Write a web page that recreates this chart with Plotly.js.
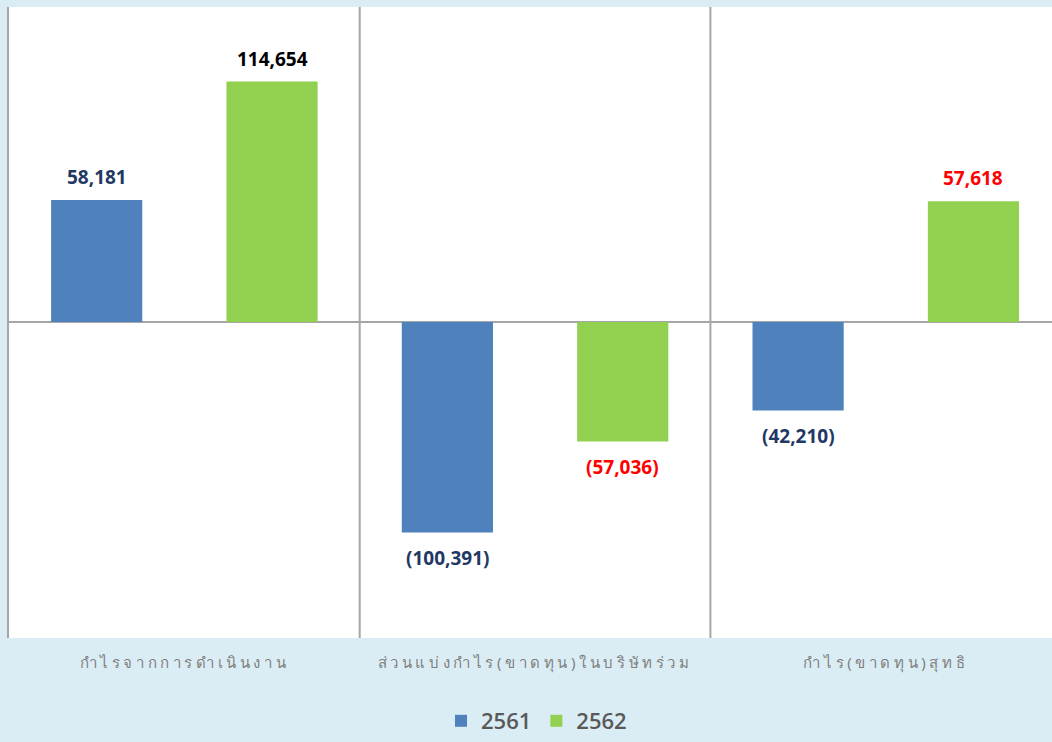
<!DOCTYPE html>
<html>
<head>
<meta charset="utf-8">
<script src="https://cdn.plot.ly/plotly-3.0.1.min.js"></script>
<style>
html,body{margin:0;padding:0;background:#DBEDF4;overflow:hidden;}
#chart{width:1052px;height:742px;}
.xtick text{letter-spacing:3.6px;}
</style>
</head>
<body>
<div id="chart"></div>
<script>
const categories = ["กำไรจากการดำเนินงาน", "ส่วนแบ่งกำไร(ขาดทุน)ในบริษัทร่วม", "กำไร(ขาดทุน)สุทธิ"];
const seriesNames = ["2561", "2562"];
const values2561 = [58181, -100391, -42210];
const values2562 = [114654, -57036, 57618];
const labelColors2561 = ["#1F3864", "#1F3864", "#1F3864"];
const labelColors2562 = ["#000000", "#FF0000", "#FF0000"];

const barColors = ["#4F81BD", "#92D050"];
const idx = categories.map((c, i) => i);

function fmt(v) {
  const s = Math.abs(v).toLocaleString("en-US");
  return v < 0 ? "(" + s + ")" : s;
}

const traces = [values2561, values2562].map((vals, k) => ({
  type: "bar",
  name: seriesNames[k],
  x: idx,
  y: vals,
  marker: {color: barColors[k]},
  hoverinfo: "none"
}));

const annotations = [];
[values2561, values2562].forEach((vals, k) => {
  const cols = k === 0 ? labelColors2561 : labelColors2562;
  vals.forEach((v, i) => {
    annotations.push({
      x: i + (k === 0 ? -0.25 : 0.25),
      y: v,
      xref: "x", yref: "y",
      text: "<b>" + fmt(v) + "</b>",
      showarrow: false,
      yanchor: "middle",
      yshift: v >= 0 ? 23 : -25,
      font: {family: "Open Sans, Liberation Sans, sans-serif", size: 19, color: cols[i]}
    });
  });
});

const shapes = [0.5, 1.5].map(xv => ({
  type: "line", xref: "x", yref: "paper",
  x0: xv, x1: xv, y0: 0, y1: 1,
  line: {color: "#A6A6A6", width: 2}
}));

const layout = {
  width: 1052, height: 742,
  paper_bgcolor: "#DBEDF4",
  plot_bgcolor: "#FFFFFF",
  margin: {l: 9, r: 0, t: 7, b: 104},
  barmode: "group",
  bargap: 0.0,
  bargroupgap: 0.48,
  showlegend: true,
  legend: {
    orientation: "h",
    xref: "container", yref: "container",
    x: 0.51, xanchor: "center", y: 0.0, yanchor: "bottom",
    font: {family: "Open Sans, Liberation Sans, sans-serif", size: 22, color: "#595959", weight: 600},
    itemwidth: 30, traceorder: "normal", bgcolor: "rgba(0,0,0,0)"
  },
  xaxis: {
    range: [-0.5, 2.474],
    tickmode: "array", tickvals: idx, ticktext: categories,
    ticks: "", showgrid: false, zeroline: false, showline: false,
    ticklabelstandoff: 14,
    tickfont: {family: "Noto Sans, DejaVu Sans, sans-serif", size: 15, color: "#7F7F7F"},
    automargin: false,
    fixedrange: true
  },
  yaxis: {
    range: [-150700, 150220],
    showticklabels: false, ticks: "", showgrid: false,
    zeroline: true, zerolinecolor: "#A6A6A6", zerolinewidth: 2,
    showline: true, linecolor: "#A6A6A6", linewidth: 2,
    fixedrange: true
  },
  shapes: shapes,
  annotations: annotations
};

Plotly.newPlot("chart", traces, layout, {displayModeBar: false, staticPlot: true});
</script>
</body>
</html>
